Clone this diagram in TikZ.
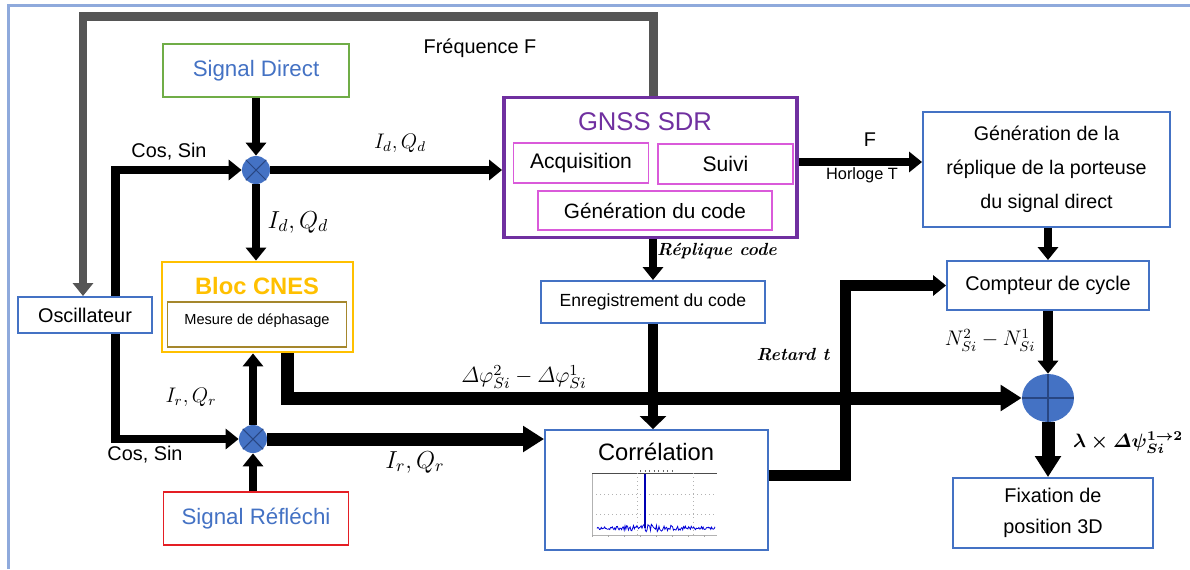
\RequirePackage{fix-cm}
\documentclass[tikz,border=0pt]{standalone}
\usepackage{amsmath}
\usepackage{fontspec}
\usetikzlibrary{arrows.meta,positioning,calc,shapes.geometric}
\newfontfamily\lab{Liberation Sans}
\definecolor{framecol}{RGB}{143,170,220}
\definecolor{boxblue}{RGB}{68,114,196}
\definecolor{sggreen}{RGB}{112,173,71}
\definecolor{sgred}{RGB}{228,30,36}
\definecolor{cnesyel}{RGB}{255,192,0}
\definecolor{mesbrown}{RGB}{165,135,45}
\definecolor{sdrpurple}{RGB}{112,48,160}
\definecolor{subpink}{RGB}{218,90,218}
\definecolor{mixline}{RGB}{40,70,130}
\definecolor{topgray}{RGB}{85,85,85}
\newcommand{\fs}[1]{\lab\fontsize{#1}{1.2\dimexpr#1pt\relax}\selectfont}

\begin{document}
\begin{tikzpicture}[x=0.02cm,y=-0.02cm,
    blk/.style={draw=boxblue,fill=white,line width=1.1pt,align=center,
                inner sep=0pt,font=\fs{11.3}},
    sub/.style={draw=subpink,line width=0.8pt,inner sep=0pt,
                minimum width=2.7cm,minimum height=0.8cm,font=\fs{12}},
    mix/.style={circle,fill=boxblue,minimum size=0.56cm,inner sep=0pt},
    arr/.style={-{Triangle[length=0.26cm,width=0.4cm]},line width=0.17cm},
    fat/.style={-{Triangle[length=0.42cm,width=0.5cm]},line width=0.26cm},
    lbl/.style={font=\fs{11.3},inner sep=0pt},
    mlbl/.style={inner sep=0pt}
  ]
    \useasboundingbox (0,0) rectangle (1190,569);
    \draw[framecol,line width=0.05cm] (8.5,569) -- (8.5,5.5) -- (1190,5.5);

    % blocks
    \node[blk,draw=sggreen,text=boxblue,font=\fs{12.7},
          minimum width=3.72cm,minimum height=1.06cm] (sigd) at (256,70.5) {Signal Direct};
    \node[blk,minimum width=2.68cm,minimum height=0.72cm] (osc) at (85,315) {Oscillateur};
    \node[blk,draw=cnesyel,line width=1.6pt,
          minimum width=3.82cm,minimum height=1.8cm] (cnes) at (257.5,307) {};
    \node[font=\lab\bfseries\fontsize{13.5}{16}\selectfont,text=cnesyel,inner sep=0pt] (cnesT) at (257,286) {Bloc CNES};
    \node[draw=mesbrown,line width=0.6pt,inner sep=0pt,
          minimum width=3.58cm,minimum height=0.9cm] (mes) at (257,324.5) {};
    \node[font=\fs{8.3},inner sep=0pt] (mesT) at (257,321) {Mesure de déphasage};
    \node[blk,draw=sgred,text=boxblue,font=\fs{12.7},
          minimum width=3.7cm,minimum height=1.06cm] (sigr) at (256,518.5) {Signal Réfléchi};

    \node[mix] (mixd) at (256,170) {};
    \node[mix] (mixr) at (253,439) {};
    \draw[mixline,line width=0.6pt] (mixd.north west) -- (mixd.south east)
                                    (mixd.north east) -- (mixd.south west);
    \draw[mixline,line width=0.6pt] (mixr.north west) -- (mixr.south east)
                                    (mixr.north east) -- (mixr.south west);

    \node[blk,draw=sdrpurple,line width=2.2pt,
          minimum width=5.86cm,minimum height=2.8cm] (sdr) at (650.5,167.5) {};
    \node[text=sdrpurple,font=\fs{14.6},inner sep=0pt] (sdrT) at (645,122) {GNSS SDR};
    \node[sub] (acq) at (581,163) {Acquisition};
    \node[sub] (suivi) at (725.5,164) {Suivi};
    \node[sub,font=\fs{11.8},minimum width=4.68cm,minimum height=0.78cm] (gcode) at (655,210.5) {Génération du code};

    \node[blk,font=\lab\fontsize{11.2}{19.4}\selectfont,
          minimum width=4.94cm,minimum height=2.3cm] (rep) at (1046.5,169.5)
          {Génération de la\\réplique de la porteuse\\du signal direct};
    \node[blk,minimum width=4.04cm,minimum height=0.98cm] (cpt) at (1048,285.5) {Compteur de cycle};
    \node[blk,font=\fs{10},minimum width=4.48cm,minimum height=0.84cm] (enr) at (653,302) {Enregistrement du code};
    \node[blk,minimum width=4.46cm,minimum height=2.4cm] (corr) at (656.5,490) {};
    \node[font=\fs{13.5},inner sep=0pt] (corrT) at (656,452) {Corrélation};
    \node[ellipse,fill=boxblue,minimum width=1.04cm,minimum height=0.96cm,inner sep=0pt] (sum) at (1048,398) {};
    \node[blk,font=\lab\fontsize{11.3}{17.6}\selectfont,
          minimum width=4cm,minimum height=1.4cm] (fix) at (1053,513) {Fixation de\\position 3D};

    % correlation plot
    \draw[gray!60,line width=0.3pt] (592,473) -- (592,535) -- (717,535);
    \draw[black!70,line width=0.4pt] (592,473) -- (717,473);
    \draw[black!60,line width=0.6pt,dotted] (640,471) -- (676,471);
    \draw[gray!60,dotted,line width=0.3pt] (592,494) -- (717,494) (592,514) -- (717,514)
                                         (637,473) -- (637,535) (693,473) -- (693,535);
    \foreach \t in {592,608,...,717} \draw[gray!70,line width=0.3pt] (\t,535) -- (\t,537);
    \pgfmathsetseed{7}
    \draw[blue!85!black,line width=0.45pt] plot[domain=597:715,samples=140]
          (\x,{528+rand*(1.5+2.5*exp(-((\x-652)/25)^2))});
    \draw[blue!70!black,line width=0.6pt] (645,528) -- (645,474);

    % connectors
    \coordinate (fq) at (83,16.5);
    \draw[arr,topgray,line width=0.18cm] (sdr.north -| enr.north) |- (fq) -- (fq |- osc.north);
    \draw[arr] ([xshift=0.61cm]osc.north) |- (mixd.west);
    \draw[arr] ([xshift=0.61cm]osc.south) |- (mixr.west);
    \draw[arr] (sigd.south) -- (mixd.north);
    \draw[arr] (mixd.east) -- (mixd.east -| sdr.west);
    \draw[arr] (mixd.south) -- (mixd.south |- cnes.north);
    \draw[arr] (sigr.north -| mixr.south) -- (mixr.south);
    \draw[arr] (mixr.north) -- (mixr.north |- cnes.south);
    \draw[fat] (mixr.east) -- (mixr.east -| corr.west);
    \coordinate (fh) at ([yshift=0.11cm]sdr.east);
    \draw[arr] (fh) -- (fh -| rep.west);
    \draw[arr] (rep.south -| cpt.north) -- (cpt.north);
    \draw[arr] (sdr.south -| enr.north) -- (enr.north);
    \draw[arr,line width=0.2cm,-{Triangle[length=0.26cm,width=0.52cm]}] (enr.south) -- (enr.south |- corr.north);
    \draw[arr,line width=0.22cm] ([yshift=0.3cm]corr.east) -- ++(77,0) |- (cpt.west);
    \draw[fat] ([xshift=0.61cm]cnes.south) |- (sum.west);
    \draw[arr,line width=0.2cm] (cpt.south) -- (sum.north);
    \draw[fat] (sum.south) -- (sum.south |- fix.north);
    \draw[mixline,line width=0.6pt] (sum.north) -- (sum.south) (sum.west) -- (sum.east);

    % labels
    \node[lbl] (freq) at (480,48) {Fréquence F};
    \node[lbl] (cs1) at (169,152) {Cos, Sin};
    \node[lbl] (cs2) at (145,455) {Cos, Sin};
    \node[lbl] (fF) at (870,140) {F};
    \node[lbl,font=\fs{9.3}] (hT) at (862,175) {Horloge T};
    \node[mlbl,font=\fontsize{12}{14}\selectfont] (idq1) at (400,143) {$I_d, Q_d$};
    \node[mlbl,font=\fontsize{14}{16}\selectfont] (idq2) at (298,222) {$I_d, Q_d$};
    \node[mlbl,font=\fontsize{12}{14}\selectfont] (irq1) at (191,397) {$I_r, Q_r$};
    \node[mlbl,font=\fontsize{14}{16}\selectfont] (irq2) at (415,462) {$I_r, Q_r$};
    \node[mlbl,font=\fontsize{12.5}{15}\selectfont] (dphi) at (524,377)
          {$\varDelta\varphi^2_{Si}-\varDelta\varphi^1_{Si}$};
    \node[mlbl,font=\fontsize{10}{12}\selectfont\bfseries\itshape] (repc) at (717,251) {Réplique code};
    \node[mlbl,font=\fontsize{10}{12}\selectfont\bfseries\itshape] (retard) at (793,355) {Retard t};
    \node[mlbl,font=\fontsize{12}{14}\selectfont] (ncyc) at (990,340) {$N^2_{Si}-N^1_{Si}$};
    \node[mlbl,font=\fontsize{11}{13}\selectfont] (lam) at (1128,443)
          {$\boldsymbol{\lambda\times\varDelta\psi^{1\to2}_{Si}}$};
  \end{tikzpicture}
\end{document}
